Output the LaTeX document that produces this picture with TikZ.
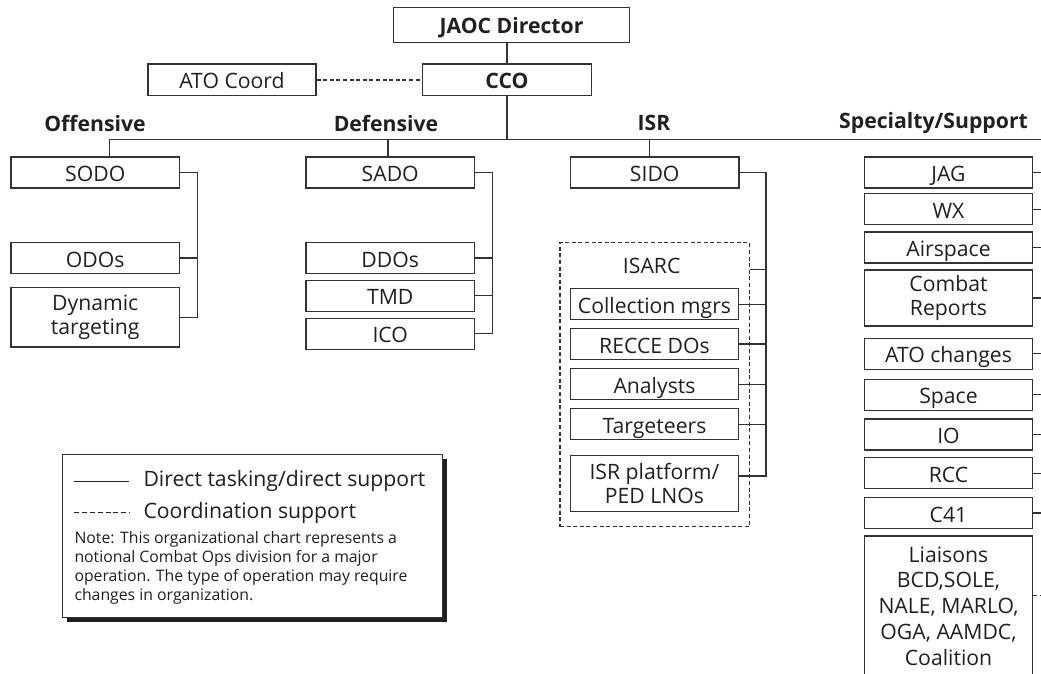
\documentclass[tikz,border=0pt]{standalone}
\usepackage{fontspec}
\setmainfont{Open Sans}
\usetikzlibrary{calc,shadows}
\definecolor{ink}{HTML}{231F20}
\definecolor{ln}{HTML}{333333}
\newcommand\boxfont{\fontsize{21.2}{24.2}\selectfont}
\newcommand\notefont{\fontsize{15.8}{18.9}\selectfont}
\begin{document}
\begin{tikzpicture}[x=1pt,y=-1pt,
  orgbox/.style={draw=ln, line width=1.2pt, fill=white, inner sep=0pt,
    minimum width=168.4pt, minimum height=31pt, font=\boxfont, text=ink},
  oneline/.style={text height=18pt, text depth=0pt},
  twoline/.style={align=center, minimum height=56pt},
  bold/.style={font=\boxfont\bfseries},
  heading/.style={font=\boxfont\bfseries, text=ink, inner sep=0pt},
  link/.style={line width=1.2pt, draw=ln},
  coord/.style={link, dash pattern=on 4pt off 2.6pt},
]
\useasboundingbox (0,0) rectangle (1041,673);

% ---- top of the chart
\node[orgbox, oneline, bold, minimum width=236pt, minimum height=35pt] (jaoc) at (511.5,24.8) {JAOC Director};
\node[orgbox, oneline, bold, minimum width=169pt, minimum height=31.7pt] (cco) at (507,79.9) {CCO};
\node[orgbox, oneline, minimum width=168pt, minimum height=31.7pt] (atoc) at (232,79.9) {ATO Coord};
\draw[link] (cco.north) -- (cco.north |- jaoc.south);
\draw[coord] (atoc.east) -- (cco.west);

% ---- division headings
\node[heading] (hoff) at (95,123.3) {Offensive};
\node[heading] (hdef) at (386,123.3) {Defensive};
\node[heading] (hisr) at (654,123.3) {ISR};
\node[heading] (hsup) at (933.5,123.3) {Specialty/Support};

% ---- horizontal bus
\coordinate (busL) at (109.5,139.3);
\coordinate (busR) at (1041,139.3);
\coordinate (dropD) at (388,139.3);
\coordinate (dropI) at (649.4,139.3);
\draw[link] (cco.south) -- (cco.south |- busL);
\draw[link] (busL) -- (busR);

% ---- offensive
\node[orgbox, oneline] (sodo) at (95.2,172.5) {SODO};
\node[orgbox, oneline] (odos) at (95.2,258) {ODOs};
\node[orgbox, twoline, minimum height=59.7pt] (dyn) at (95.2,317.2) {Dynamic\\targeting};
\coordinate (brO) at (197.3,0);
\draw[link] (busL) -- (busL |- sodo.north);
\draw[link] (sodo.east) -| (brO |- dyn.east) -- (dyn.east);
\draw[link] (odos.east) -- (odos.east -| brO);

% ---- defensive
\node[orgbox, oneline] (sado) at (390.2,172.5) {SADO};
\node[orgbox, oneline] (ddos) at (390.2,258) {DDOs};
\node[orgbox, oneline] (tmd) at (390.2,295.8) {TMD};
\node[orgbox, oneline] (ico) at (390.2,333.7) {ICO};
\coordinate (brD) at (492.3,0);
\draw[link] (dropD) -- (dropD |- sado.north);
\draw[link] (sado.east) -| (brD |- ico.east) -- (ico.east);
\draw[link] (ddos.east) -- (ddos.east -| brD);
\draw[link] (tmd.east) -- (tmd.east -| brD);

% ---- ISR
\node[orgbox, oneline] (sido) at (654.7,172.5) {SIDO};
\node[draw=ln, dash pattern=on 4pt off 2.6pt, line width=1.2pt, inner sep=0pt,
  minimum width=189.3pt, minimum height=284pt] (isarc) at (654.65,384.7) {};
\node[font=\boxfont, text=ink, inner sep=0pt] (isarclbl) at (651.7,266) {ISARC};
\node[orgbox, oneline, minimum width=167.6pt] (coll) at (654.5,304.2) {Collection mgrs};
\node[orgbox, oneline, minimum width=167.6pt] (recce) at (654.5,344) {RECCE DOs};
\node[orgbox, oneline, minimum width=167.6pt] (anal) at (654.5,384.2) {Analysts};
\node[orgbox, oneline, minimum width=167.6pt] (targ) at (654.5,424.2) {Targeteers};
\node[orgbox, twoline, minimum width=167.6pt] (plat) at (654.5,483.7) {ISR platform/\\PED LNOs};
\coordinate (brI) at (766,0);
\coordinate (isarcS) at ($(isarc.north east)+(0,27.3)$);
\coordinate (platS) at ($(plat.east)+(0,-7.7)$);
\draw[link] (dropI) -- (dropI |- sido.north);
\draw[link] (sido.east) -| (brI |- platS) -- (platS);
\draw[link] (isarcS) -- (isarcS -| brI);
\draw[link] (coll.east) -- (coll.east -| brI);
\draw[link] (recce.east) -- (recce.east -| brI);
\draw[link] (anal.east) -- (anal.east -| brI);
\draw[link] (targ.east) -- (targ.east -| brI);

% ---- specialty / support
\coordinate (edgeR) at (1041,0);
\node[orgbox, oneline] (jag) at (948.5,172.5) {JAG};
\node[orgbox, oneline] (wx) at (948.5,209.2) {WX};
\node[orgbox, oneline] (air) at (948.5,247.5) {Airspace};
\node[orgbox, twoline] (cmb) at (948.5,298) {Combat\\Reports};
\node[orgbox, oneline] (atoch) at (948.5,353.8) {ATO changes};
\node[orgbox, oneline] (spc) at (948.5,394.8) {Space};
\node[orgbox, oneline] (io) at (948.5,434.5) {IO};
\node[orgbox, oneline] (rcc) at (948.5,473.1) {RCC};
\node[orgbox, oneline] (c41) at (948.5,513) {C41};
\node[orgbox, align=center, minimum height=140pt, font=\fontsize{21.2}{25.7}\selectfont] (liai) at (948.5,606)
  {Liaisons\\BCD,SOLE,\\NALE, MARLO,\\OGA, AAMDC,\\Coalition};
\foreach \n in {jag,wx,air,cmb,atoch,spc,io,rcc,c41}
  \draw[link] (\n.east) -- (\n.east -| edgeR);
\coordinate (liaiS) at ($(liai.north east)+(0,59.7)$);
\draw[coord] (liaiS) -- (liaiS -| edgeR);

% ---- legend
\node[draw=ln, line width=1pt, fill=white, inner sep=0pt,
  minimum width=379.6pt, minimum height=163.4pt,
  drop shadow={shadow xshift=4.3pt, shadow yshift=-4.6pt, opacity=1, fill=ink}] (leg) at (252.5,536) {};
\coordinate (solA) at (74.3,481);
\coordinate (solB) at (129,481);
\coordinate (dasA) at (74.3,512.7);
\coordinate (dasB) at (129,512.7);
\draw[line width=1pt, draw=ink] (solA) -- (solB);
\draw[line width=1pt, draw=ink, dash pattern=on 5pt off 2.8pt] (dasA) -- (dasB);
\node[anchor=west, font=\boxfont, text=ink, inner sep=0pt] (legsol) at (143.3,481) {Direct tasking/direct support};
\node[anchor=west, font=\boxfont, text=ink, inner sep=0pt] (legdas) at (143.3,512.7) {Coordination support};
\node[anchor=north west, font=\notefont, text=ink, inner sep=0pt, align=left] (note) at (74.3,531.5)
  {Note: This organizational chart represents a\\notional Combat Ops division for a major\\operation. The type of operation may require\\changes in organization.};
\end{tikzpicture}
\end{document}
